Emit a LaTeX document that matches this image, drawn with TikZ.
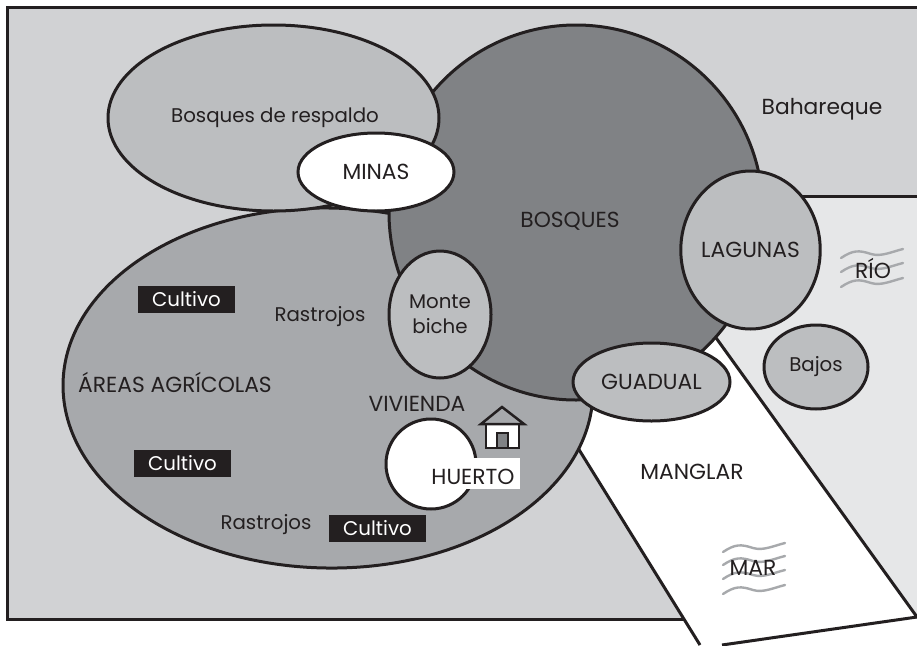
\documentclass[tikz,border=0pt]{standalone}
\usepackage{fontspec}
\setmainfont{Poppins}
\usetikzlibrary{shapes.geometric}
\definecolor{bgg}{HTML}{D1D2D4}
\definecolor{rio}{HTML}{E6E7E8}
\definecolor{lite}{HTML}{BCBEC0}
\definecolor{midg}{HTML}{A7A9AC}
\definecolor{dark}{HTML}{808285}
\definecolor{ink}{HTML}{231F20}
\newcommand{\capsf}{\fontsize{21.8}{25}\selectfont}
\newcommand{\lowf}{\fontsize{19.8}{25}\selectfont}
\tikzset{
 ell/.style={ellipse,draw=ink,line width=3pt,inner sep=0pt,outer sep=0pt,text=ink,align=center,font=\capsf},
 lab/.style={text=ink,inner sep=0pt,font=\capsf,align=center},
 lowlab/.style={text=ink,inner sep=0pt,font=\lowf,align=center},
 cult/.style={fill=ink,text=white,inner sep=0pt,minimum height=27pt,minimum width=97pt,font=\lowf},
 edge/.style={draw=ink,line width=3pt},
 wave/.style={draw=midg,line width=2.4pt,line cap=round}
}
\newcommand{\wv}[2]{\draw[wave] (#1,#2+9) .. controls (#1+12,#2+1) and (#1+18,#2+1) .. (#1+30,#2+5) .. controls (#1+40,#2+8) and (#1+50,#2+3) .. (#1+62,#2);}
\begin{document}
\begin{tikzpicture}[x=1pt,y=-1pt]
\useasboundingbox (0,0) rectangle (917,645);
\clip (0,0) rectangle (917,645);
\fill[bgg] (7,7) rectangle (920,619);
\draw[edge] (920,7) -- (7,7) -- (7,619) -- (690,619);
% rio region
\fill[rio] (740,196) -- (920,196) -- (920,621) -- (717,340) -- cycle;
\draw[edge] (740,196) -- (920,196);
% manglar
\coordinate (mA) at (714,335);
\coordinate (mB) at (917,617);
\coordinate (mC) at (722,645);
\coordinate (mD) at (700,645);
\coordinate (mE) at (578,448);
\fill[white] (mA) -- (mB) -- (mC) -- (mD) -- (mE) -- (570,420) -- (640,380) -- cycle;
\draw[edge] (mA) -- (mB) -- (mC);
\draw[edge] (mD) -- (mE);
% main ellipses
\node[ell,fill=midg,minimum width=530pt,minimum height=360pt,rotate=-1] (areas) at (328,388) {};
\node[ell,fill=dark,minimum width=374pt,minimum height=375pt] (bosques) at (576,212.5) {};
\node[ell,fill=lite,minimum width=331pt,minimum height=186pt] (respaldo) at (273.5,118) {};
\node[ell,fill=white,minimum width=156pt,minimum height=78pt] (minas) at (376,172) {MINAS};
\node[ell,fill=lite,minimum width=102pt,minimum height=127pt,font=\lowf] (monte) at (440,314.5) {Monte\\biche};
\node[ell,fill=lite,minimum width=125pt,minimum height=158pt] (lagunas) at (750.5,250) {LAGUNAS};
\node[ell,fill=lite,minimum width=104pt,minimum height=84pt,font=\lowf] (bajos) at (816,367) {Bajos};
\node[ell,fill=lite,minimum width=157pt,minimum height=78pt] (guadual) at (651.5,382) {GUADUAL};
\node[ell,fill=white,minimum width=90pt,minimum height=90pt] (huerto) at (431,464) {};
\node[fill=white,minimum width=90pt,minimum height=31pt,inner sep=0pt] (huertobox) at (475,473.5) {};
% house
\coordinate (hA) at (481,424);
\coordinate (hB) at (502,407);
\coordinate (hC) at (524,424);
\filldraw[draw=ink,fill=white,line width=2.5pt] (486,424) rectangle (519,448);
\draw[draw=ink,line width=2.5pt,line join=miter] (hA) -- (hB) -- (hC) -- cycle;
\filldraw[draw=ink,fill=dark,line width=2pt] (497,433) rectangle (508,448);
% waves
\wv{841}{249}\wv{841}{263}\wv{841}{278}
\wv{723}{543}\wv{723}{556}\wv{723}{570}\wv{723}{585}
% labels
\node[lowlab] (t1) at (275,118) {Bosques de respaldo};
\node[lab] (t2) at (570,221) {BOSQUES};
\node[lab] (t3) at (822,109) {Bahareque};
\node[lab] (t4) at (873,268) {RÍO};
\node[lab] (t5) at (692,472) {MANGLAR};
\node[lab] (t6) at (753,568) {MAR};
\node[lowlab] (t7) at (320,317) {Rastrojos};
\node[lab] (t8) at (175,382) {ÁREAS AGRÍCOLAS};
\node[lab] (t9) at (417,404) {VIVIENDA};
\node[lab] (t10) at (473,477) {HUERTO};
\node[lowlab] (t11) at (266,525) {Rastrojos};
\node[cult] (c1) at (186.5,299.5) {Cultivo};
\node[cult] (c2) at (182.5,463.5) {Cultivo};
\node[cult] (c3) at (377.5,528.5) {Cultivo};
\end{tikzpicture}
\end{document}
